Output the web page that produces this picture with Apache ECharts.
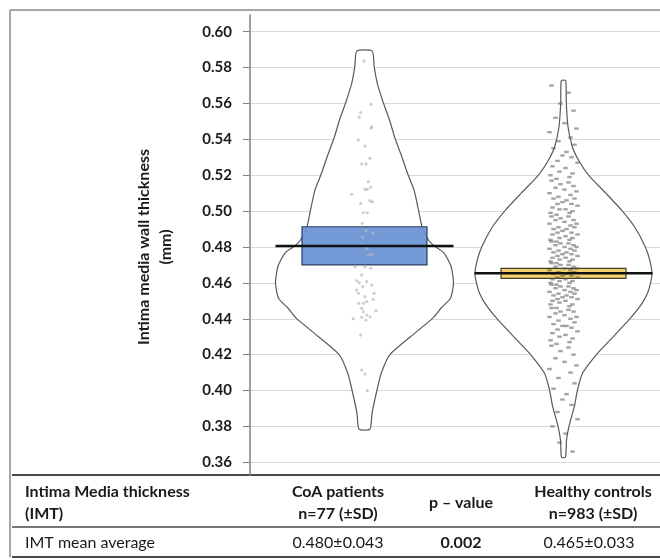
<!DOCTYPE html>
<html><head><meta charset="utf-8">
<script src="https://cdn.jsdelivr.net/npm/echarts@6/dist/echarts.min.js"></script>
<style>html,body{margin:0;padding:0;background:#fff}#c{width:660px;height:560px}</style>
</head><body><div id="c"></div>
<script>
// ---------- data ----------
const groups = ['CoA patients', 'Healthy controls'];
const groupCenters = [1.145, 3.135];           // x-axis units (hidden axis)
const meanValues = [0.4805, 0.4653];
const ciLow = [0.4700, 0.4625];
const ciHigh = [0.4913, 0.4681];
const yTickLabels = ['0.36','0.38','0.40','0.42','0.44','0.46','0.48','0.50','0.52','0.54','0.56','0.58','0.60'];

// violin outlines: level (mm) and half-width (x-axis units)
const coaLevels = [0.5892,0.5805,0.5712,0.5601,0.5508,0.5406,0.5313,0.5211,0.5118,0.5006,0.4913,0.4839,0.4805,0.4765,0.4690,0.4598,0.4514,0.4460,0.4402,0.4300,0.4198,0.4096,0.4003,0.3873,0.3785];
const coaWidths = [0.077,0.097,0.128,0.19,0.25,0.305,0.367,0.43,0.495,0.54,0.575,0.64,0.70,0.797,0.867,0.89,0.86,0.767,0.68,0.46,0.25,0.167,0.125,0.075,0.055];
const hcLevels = [0.5727,0.5601,0.5470,0.5359,0.5285,0.5201,0.5099,0.5006,0.4913,0.4802,0.4727,0.4653,0.4598,0.4542,0.4477,0.4402,0.4282,0.4198,0.4096,0.4003,0.3910,0.3808,0.3724,0.3629];
const hcWidths = [0.022,0.028,0.045,0.088,0.15,0.25,0.425,0.58,0.71,0.817,0.863,0.885,0.87,0.84,0.775,0.667,0.467,0.325,0.19,0.14,0.108,0.058,0.03,0.02];

const coaValues = [0.5837,0.5595,0.5549,0.5523,0.5470,0.5463,0.5396,0.5363,0.5294,0.5263,0.5263,0.5164,0.5122,0.5122,0.5133,0.5094,0.5043,0.5058,0.5052,0.4991,0.4991,0.4932,0.4891,0.4876,0.4854,0.4793,0.4755,0.4759,0.4690,0.4690,0.4681,0.4644,0.4612,0.4601,0.4607,0.4588,0.4579,0.4560,0.4542,0.4542,0.4523,0.4508,0.4486,0.4486,0.4495,0.4458,0.4445,0.4439,0.4421,0.4411,0.4400,0.4408,0.4393,0.4309,0.4114,0.4092,0.3999];
const coaJitter = [-0.005,0.065,-0.038,-0.052,0.072,0.065,-0.062,0.005,0.055,-0.028,0.015,0.038,0.005,0.028,0.062,-0.128,-0.038,0.055,0.078,-0.012,0.028,-0.022,0.015,0.082,-0.018,0.022,0.038,0.072,-0.095,0.005,0.062,-0.028,-0.078,-0.052,0.022,0.072,-0.018,-0.078,-0.062,0.095,0.005,0.088,-0.058,-0.012,0.022,-0.028,0.115,-0.012,0.022,0.055,-0.112,-0.028,0.015,-0.038,-0.028,0.005,0.028];

// healthy controls measurements (mm), estimated from the dot cloud
const hcValues = [0.570,0.566,0.560,0.556,0.552,0.549,0.546,0.544,0.541,0.539,0.537,0.535,0.533,0.531,0.530,0.528,0.527,0.525,0.524,0.522,0.521,0.520,0.519,0.518,0.517,0.516,0.515,0.514,0.513,0.512,0.511,0.510,0.509,0.508,0.507,0.507,0.506,0.505,0.504,0.504,0.503,0.502,0.501,0.501,0.500,0.499,0.499,0.498,0.497,0.497,0.496,0.495,0.495,0.494,0.493,0.493,0.492,0.491,0.491,0.490,0.490,0.489,0.488,0.488,0.487,0.487,0.486,0.485,0.485,0.484,0.484,0.483,0.483,0.482,0.482,0.481,0.481,0.480,0.480,0.479,0.479,0.478,0.478,0.477,0.477,0.476,0.476,0.475,0.475,0.474,0.474,0.473,0.473,0.472,0.472,0.471,0.471,0.470,0.470,0.469,0.469,0.468,0.468,0.467,0.467,0.466,0.466,0.465,0.465,0.464,0.464,0.463,0.463,0.462,0.462,0.461,0.461,0.460,0.460,0.459,0.459,0.458,0.458,0.457,0.457,0.456,0.456,0.455,0.455,0.454,0.454,0.453,0.453,0.452,0.452,0.451,0.451,0.450,0.450,0.449,0.448,0.448,0.447,0.446,0.446,0.445,0.444,0.444,0.443,0.442,0.441,0.441,0.440,0.439,0.438,0.437,0.436,0.436,0.435,0.434,0.433,0.432,0.431,0.430,0.429,0.428,0.427,0.426,0.425,0.424,0.422,0.420,0.418,0.416,0.414,0.412,0.410,0.407,0.404,0.401,0.398,0.395,0.392,0.388,0.384,0.380,0.376,0.371,0.366];
const hcJitterPattern = [-0.12,0.05,-0.03,0.10,-0.08,0.01,0.13,-0.14,0.07,-0.05,0.11,-0.10,0.03,-0.01,0.08,-0.06,0.14,-0.11,0.02,-0.04,0.09,-0.13,0.06,-0.07];

// table text
const tableHeader = [['Intima Media thickness','(IMT)'], ['CoA patients','n=77 (±SD)'], ['p – value'], ['Healthy controls','n=983 (±SD)']];
const tableRow = ['IMT mean average', '0.480±0.043', '0.002', '0.465±0.033'];

// ---------- chart ----------
const FONT = 'Lato';
const chart = echarts.init(document.getElementById('c'), null, {renderer:'canvas'});

function violin(levels, widths, center) {
  return {
    type:'custom', xAxisIndex:0, yAxisIndex:0, silent:true, z:2, data:[0],
    renderItem:(params, api) => {
      const left = levels.map((v,i)=>api.coord([center - widths[i], v]));
      const right = levels.map((v,i)=>api.coord([center + widths[i], v])).reverse();
      return {type:'polygon', shape:{points:left.concat(right), smooth:0.2},
        style:{fill:'#ffffff', stroke:'#5a5a5a', lineWidth:1.2}};
    }
  };
}

const boxFill = ['#6d95d6', '#f2d064'];
const boxStroke = ['#24375e', '#3b3522'];
const BOX_HALF = 0.625, MEAN_HALF = 0.89;

const coaDots = coaValues.map((v,i)=>[groupCenters[0] + coaJitter[i], v]);
const hcDots = hcValues.map((v,i)=>[groupCenters[1] + hcJitterPattern[i % hcJitterPattern.length], v]);

const colX = [25, 338, 461, 593];
const txt = (text, x, y, bold, align) => ({type:'text', x, y, style:{text, fill:'#1a1a1a', font:(bold?'bold ':'')+'16px '+FONT, textAlign:align, textVerticalAlign:'middle'}, z:10});
const graphics = [
  {type:'line', shape:{x1:10,y1:10,x2:660,y2:10}, style:{stroke:'#8a8a8a', lineWidth:1.5}},
  {type:'line', shape:{x1:10,y1:10,x2:10,y2:557}, style:{stroke:'#8a8a8a', lineWidth:1.5}},
  {type:'line', shape:{x1:12,y1:475,x2:660,y2:475}, style:{stroke:'#4a4a4a', lineWidth:2}},
  {type:'line', shape:{x1:12,y1:527,x2:660,y2:527}, style:{stroke:'#4a4a4a', lineWidth:1.5}},
  {type:'line', shape:{x1:12,y1:557,x2:660,y2:557}, style:{stroke:'#4a4a4a', lineWidth:2}},
  txt(tableHeader[0][0], colX[0], 491.5, true, 'left'),
  txt(tableHeader[0][1], colX[0], 513.5, true, 'left'),
  txt(tableHeader[1][0], colX[1], 491.5, true, 'center'),
  txt(tableHeader[1][1], colX[1], 513.5, true, 'center'),
  txt(tableHeader[2][0], colX[2], 502.5, true, 'center'),
  txt(tableHeader[3][0], colX[3], 491.5, true, 'center'),
  txt(tableHeader[3][1], colX[3], 513.5, true, 'center'),
  txt(tableRow[0], colX[0], 543, false, 'left'),
  txt(tableRow[1], colX[1], 543, false, 'center'),
  txt(tableRow[2], colX[2], 543, true, 'center'),
  txt(tableRow[3], 589, 543, false, 'center')
];

chart.setOption({
  animation:false,
  backgroundColor:'#ffffff',
  grid:[
    {left:250, right:0, top:31.7, bottom:97.7},
    {left:250, right:0, top:15, bottom:85}
  ],
  xAxis:[
    {type:'value', gridIndex:0, min:0, max:4.1, show:false},
    {type:'value', gridIndex:1, min:0, max:1, show:false}
  ],
  yAxis:[
    {type:'value', gridIndex:0, min:0.36, max:0.60, interval:0.02,
     name:'Intima media wall thickness\n(mm)', nameLocation:'middle', nameGap:73, nameRotate:90,
     nameTextStyle:{fontFamily:FONT, fontWeight:'bold', fontSize:16, color:'#1a1a1a', lineHeight:22},
     axisLine:{show:false},
     axisTick:{show:true, length:7, lineStyle:{color:'#808080', width:1}},
     axisLabel:{margin:18, fontFamily:FONT, fontWeight:'bold', fontSize:15, color:'#1a1a1a',
       formatter:(v)=>yTickLabels[Math.round((v-0.36)/0.02)]},
     splitLine:{show:true, lineStyle:{color:'#d9d9d9', width:1.2}}},
    {type:'value', gridIndex:1, min:0, max:1, axisLine:{show:true, lineStyle:{color:'#7f7f7f', width:1.5}},
     axisTick:{show:false}, axisLabel:{show:false}, splitLine:{show:false}}
  ],
  series:[
    violin(coaLevels, coaWidths, groupCenters[0]),
    violin(hcLevels, hcWidths, groupCenters[1]),
    {type:'custom', xAxisIndex:0, yAxisIndex:0, z:3, silent:true, data:groups.map((g,i)=>[i]),
     renderItem:(params, api)=>{
       const i = api.value(0);
       const p1 = api.coord([groupCenters[i]-BOX_HALF, ciHigh[i]]);
       const p2 = api.coord([groupCenters[i]+BOX_HALF, ciLow[i]]);
       return {type:'rect', shape:{x:p1[0], y:p1[1], width:p2[0]-p1[0], height:p2[1]-p1[1]},
         style:{fill:boxFill[i], stroke:boxStroke[i], lineWidth:1.2, opacity:0.95}};
     }},
    {type:'scatter', xAxisIndex:0, yAxisIndex:0, z:4, silent:true, symbol:'circle', symbolSize:3.2,
     itemStyle:{color:'#b8b8b8', opacity:0.7}, data:coaDots},
    {type:'scatter', xAxisIndex:0, yAxisIndex:0, z:4, silent:true, symbol:'rect', symbolSize:[4.5,2.4],
     itemStyle:{color:'#5a5a5a', opacity:0.55}, data:hcDots},
    {type:'custom', xAxisIndex:0, yAxisIndex:0, z:5, silent:true, data:groups.map((g,i)=>[i]),
     renderItem:(params, api)=>{
       const i = api.value(0);
       const a = api.coord([groupCenters[i]-MEAN_HALF, meanValues[i]]);
       const b = api.coord([groupCenters[i]+MEAN_HALF, meanValues[i]]);
       return {type:'line', shape:{x1:a[0], y1:a[1], x2:b[0], y2:b[1]}, style:{stroke:'#111', lineWidth:2.5}};
     }}
  ],
  graphic: graphics
});
</script></body></html>
